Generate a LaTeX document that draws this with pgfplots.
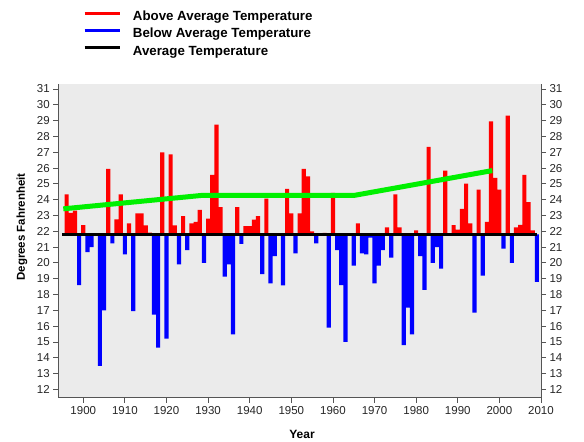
\documentclass[border=0pt]{standalone}
\usepackage{pgfplots}
\pgfplotsset{compat=1.18}
\usepackage{fontspec}
\setmainfont{Liberation Sans}
\definecolor{bgc}{RGB}{235,235,235}
\definecolor{axc}{RGB}{85,85,85}
\definecolor{grn}{RGB}{0,240,0}
\begin{document}
\begin{tikzpicture}
\useasboundingbox (0,0) rectangle (584pt,442pt);
\begin{axis}[
  at={(58.3pt,44.3pt)}, anchor=south west,
  scale only axis, width=482.7pt, height=313.4pt,
  xmin=1894, xmax=2010, ymin=11.47, ymax=31.3,
  y coord trafo/.code={\pgfmathparse{#1-21.8}},
  y coord inv trafo/.code={\pgfmathparse{#1+21.8}},
  axis x line*=bottom, axis y line*=left,
  axis line style={axc, line width=0.8pt},
  tick align=outside, major tick length=5pt,
  tick style={axc, line width=0.8pt},
  xtick={1900,1910,...,2010},
  ytick={12,13,14,15,16,17,18,19,20,21,22,23,24,25,26,27,28,29,30,31},
  yticklabels={12,13,14,15,16,17,18,19,20,21,22,23,24,25,26,27,28,29,30,31},
  /pgf/number format/1000 sep={},
  /pgf/number format/assume math mode=true,
  tick label style={font=\fontsize{11.5}{13}\selectfont, text=black!85},
  axis background/.style={fill=bgc},
  legend style={at={(axis description cs:0.0512,1.242)}, anchor=north west,
    draw=none, fill=none, inner sep=0pt, row sep=0.6pt,
    font=\fontsize{13.3}{15}\selectfont\bfseries,
    nodes={inner sep=2pt, text height=10pt, text depth=2.7pt},
    /tikz/every odd column/.append style={column sep=9pt}},
  legend cell align=left,
  legend image code/.code={\draw[#1] (0pt,4pt) -- (35.7pt,4pt);},
]
\addlegendimage{red, line width=3pt}
\addlegendentry{Above Average Temperature}
\addlegendimage{blue, line width=3pt}
\addlegendentry{Below Average Temperature}
\addlegendimage{black, line width=3pt}
\addlegendentry{Average Temperature}

% above average years
\addplot[ybar, bar width=1, bar shift=0pt, fill=red, draw=none, forget plot] table {
1896 24.33
1897 23.17
1898 23.30
1900 22.39
1906 25.95
1908 22.75
1909 24.33
1911 22.50
1913 23.14
1914 23.14
1915 22.37
1916 21.92
1919 27.00
1921 26.87
1922 22.37
1924 22.96
1926 22.50
1927 22.60
1928 23.35
1930 22.80
1931 25.57
1932 28.75
1933 23.53
1937 23.53
1939 22.33
1940 22.33
1941 22.73
1942 22.96
1944 24.07
1949 24.68
1950 23.14
1952 23.14
1953 25.95
1954 25.48
1955 22.00
1958 21.90
1960 24.43
1966 22.50
1973 22.25
1975 24.33
1976 22.25
1980 22.05
1983 27.34
1987 25.84
1989 22.39
1990 22.10
1991 23.42
1992 25.02
1993 22.50
1995 24.64
1997 22.60
1998 28.96
1999 25.38
2000 24.64
2002 29.32
2004 22.25
2005 22.40
2006 25.57
2007 23.84
2008 22.05
};
% below average years
\addplot[ybar, bar width=1, bar shift=0pt, fill=blue, draw=none, forget plot] table {
1899 18.60
1901 20.68
1902 21.00
1903 21.75
1904 13.48
1905 17.00
1907 21.23
1910 20.54
1912 16.94
1917 16.73
1918 14.64
1920 15.21
1923 19.90
1925 20.81
1929 20.00
1934 19.13
1935 19.90
1936 15.48
1938 21.20
1943 19.29
1945 18.70
1946 20.42
1947 21.75
1948 18.58
1951 20.60
1956 21.23
1957 21.75
1959 15.90
1961 20.80
1962 18.60
1963 15.00
1964 21.75
1965 19.83
1967 20.60
1968 20.54
1969 21.60
1970 18.70
1971 19.83
1972 20.80
1974 20.33
1977 14.79
1978 17.17
1979 15.48
1981 20.42
1982 18.30
1984 20.00
1985 21.00
1986 19.63
1988 21.75
1994 16.85
1996 19.20
2001 20.90
2003 20.00
2009 18.80
};
% average line
\addplot[black, line width=2.4pt, forget plot] coordinates {(1895,21.8) (2009,21.8)};
% trend
\addplot[grn, line width=5pt, forget plot] coordinates {(1895.2,23.42) (1928.5,24.27) (1965.1,24.27) (1998.3,25.84)};
\end{axis}
\begin{axis}[
  at={(58.3pt,44.3pt)}, anchor=south west,
  scale only axis, width=482.7pt, height=313.4pt,
  xmin=1894, xmax=2010, ymin=11.47, ymax=31.3,
  axis x line=none, axis y line*=right,
  axis line style={axc, line width=0.8pt},
  tick align=outside, major tick length=5pt,
  tick style={axc, line width=0.8pt},
  ytick={12,13,...,31},
  /pgf/number format/assume math mode=true,
  tick label style={font=\fontsize{11.5}{13}\selectfont, text=black!85},
]
\addplot[draw=none] coordinates {(1900,20)};
\end{axis}
\node[rotate=90, font=\fontsize{11.5}{13}\selectfont\bfseries] at (22pt,215pt) {Degrees Fahrenheit};
\node[font=\fontsize{12}{14}\selectfont\bfseries] at (302pt,8pt) {Year};
\end{tikzpicture}
\end{document}
